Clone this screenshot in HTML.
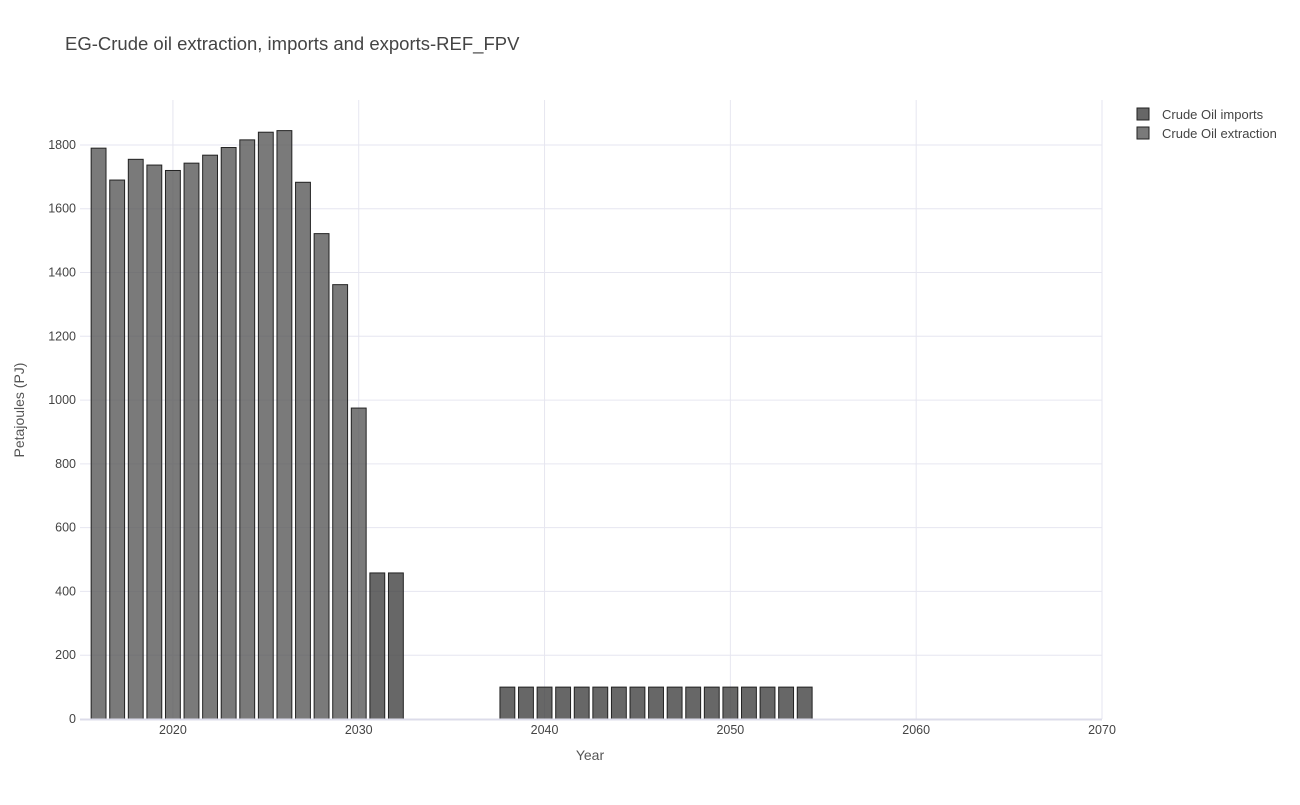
<!DOCTYPE html>
<html><head><meta charset="utf-8"><style>
body{margin:0;background:#fff;font-family:"Liberation Sans",Arial,sans-serif}
svg text{font-family:"Liberation Sans",Arial,sans-serif}
</style></head><body>
<svg id="chart" width="1300" height="800">
<text x="65" y="50" font-size="18.5" fill="#444">EG-Crude oil extraction, imports and exports-REF_FPV</text>
<g id="grid"></g><g id="bars"></g><g id="axes"></g>
<text x="590" y="760" font-size="14" fill="#555" text-anchor="middle">Year</text>
<text transform="translate(24,410) rotate(-90)" font-size="14" fill="#555" text-anchor="middle">Petajoules (PJ)</text>
<g>
<g><rect x="1137" y="108" width="12" height="12" fill="rgba(65,65,65,0.8)" stroke="#222"/><text x="1162" y="119" font-size="13" fill="#444">Crude Oil imports</text></g>
<g><rect x="1137" y="127" width="12" height="12" fill="rgba(85,85,85,0.78)" stroke="#222"/><text x="1162" y="138" font-size="13" fill="#444">Crude Oil extraction</text></g>
</g>
</svg>
<script>
const extractionYears=[2016,2017,2018,2019,2020,2021,2022,2023,2024,2025,2026,2027,2028,2029,2030];
const extractionValues=[1790,1690,1755,1737,1720,1743,1768,1792,1816,1840,1845,1683,1522,1362,975];
const importYears=[2031,2032,2038,2039,2040,2041,2042,2043,2044,2045,2046,2047,2048,2049,2050,2051,2052,2053,2054];
const importValues=[458,458,100,100,100,100,100,100,100,100,100,100,100,100,100,100,100,100,100];
const xTicks=[2020,2030,2040,2050,2060,2070];
const yTicks=[0,200,400,600,800,1000,1200,1400,1600,1800];
const X0=80,X1=1102,Y0=719,Y1=100,xmin=2015,xmax=2070,ymax=1941;
const sx=v=>X0+(v-xmin)/(xmax-xmin)*(X1-X0);
const sy=v=>Y0-v/ymax*(Y0-Y1);
const NS="http://www.w3.org/2000/svg";
function mk(t,a,p){const e=document.createElementNS(NS,t);for(const k in a)e.setAttribute(k,a[k]);p.appendChild(e);return e;}
const grid=document.getElementById('grid'),bars=document.getElementById('bars'),axes=document.getElementById('axes');
yTicks.forEach(v=>{
 if(v>0){const l=mk('line',{x1:X0,x2:X1,y1:sy(v),y2:sy(v),stroke:'#e6e6f0','stroke-width':1},grid);
 
 }
 const t=mk('text',{x:X0-4,y:sy(v)+4,'text-anchor':'end','font-size':12.5,fill:'#444'},axes);t.textContent=v;
 
 
});
xTicks.forEach(v=>{
 const l=mk('line',{x1:sx(v),x2:sx(v),y1:Y1,y2:Y0,stroke:'#e6e6f0','stroke-width':1},grid);
 
 
 const t=mk('text',{x:sx(v),y:Y0+15,'text-anchor':'middle','font-size':12.5,fill:'#444'},axes);t.textContent=v;
 
 
});
const base=mk('line',{x1:X0,x2:X1,y1:Y0+0.5,y2:Y0+0.5,stroke:'#dcdcea','stroke-width':2},axes);


const bw=0.8*(X1-X0)/(xmax-xmin);
function draw(years,vals,fill,name){
 years.forEach((y,i)=>{
  const r=mk('rect',{x:sx(y)-bw/2,y:sy(vals[i]),width:bw,height:sy(0)-sy(vals[i]),fill:fill,stroke:'#222','stroke-width':1},bars);
  
  
 });
}
draw(extractionYears,extractionValues,'rgba(85,85,85,0.78)','extraction');
draw(importYears,importValues,'rgba(65,65,65,0.8)','imports');
</script>
</body></html>
